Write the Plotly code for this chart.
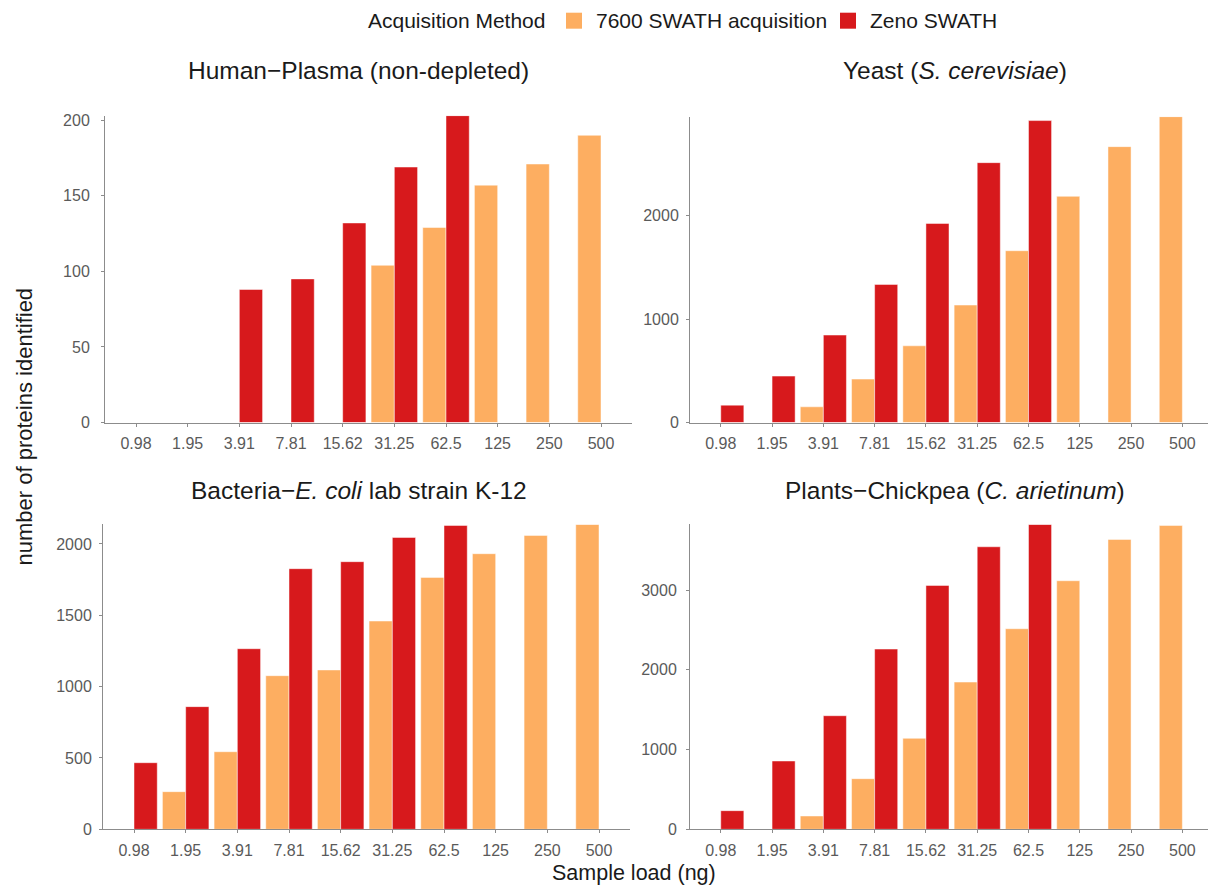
import plotly.graph_objects as go

loads = ['0.98', '1.95', '3.91', '7.81', '15.62', '31.25', '62.5', '125', '250', '500']

plasma_7600 = [None, None, None, None, None, 104, 129, 157, 171, 190]
plasma_zeno = [None, None, 88, 95, 132, 169, 203, None, None, None]
yeast_7600 = [None, None, 152, 420, 742, 1136, 1662, 2188, 2669, 2959]
yeast_zeno = [168, 449, 846, 1336, 1926, 2514, 2921, None, None, None]
ecoli_7600 = [None, 264, 544, 1077, 1117, 1460, 1766, 1932, 2060, 2137]
ecoli_zeno = [467, 860, 1266, 1827, 1876, 2046, 2130, None, None, None]
chick_7600 = [None, None, 167, 635, 1141, 1847, 2516, 3118, 3636, 3811]
chick_zeno = [234, 857, 1425, 2261, 3059, 3544, 3824, None, None, None]

series_names = ['7600 SWATH acquisition', 'Zeno SWATH']
legend_title = 'Acquisition Method'
colors = ['#FDAE61', '#D7191C']

panels = [
    ('Human\u2212Plasma (non-depleted)', plasma_7600, plasma_zeno, [0, 50, 100, 150, 200]),
    ('Yeast (<i>S. cerevisiae</i>)', yeast_7600, yeast_zeno, [0, 1000, 2000]),
    ('Bacteria\u2212<i>E. coli</i> lab strain K-12', ecoli_7600, ecoli_zeno, [0, 500, 1000, 1500, 2000]),
    ('Plants\u2212Chickpea (<i>C. arietinum</i>)', chick_7600, chick_zeno, [0, 1000, 2000, 3000]),
]

W, H = 1208, 899
# panel geometry in target pixels: (x0, x1, ytop, ybottom)
geom = [
    (105, 632, 115, 422),
    (690, 1208, 116, 422),
    (103, 630, 524, 829),
    (690, 1208, 524, 829),
]
xranges = [[-0.6, 9.6], [-0.6, 9.5], [-0.6, 9.6], [-0.6, 9.5]]
title_pos = [(358, 70), (955, 70), (359, 490), (955, 490)]
ylab_standoff = [8, 4, 4, 6]


def px(x):
    return x / W


def py(y):
    # slight vertical correction of the captured page
    return 1 - ((y - 3.3) / 0.986) / H


font_family = 'Liberation Sans, Arial, sans-serif'
tick_font = dict(size=16, color='#5a5a5a', family=font_family)
fig = go.Figure()
annotations = []
shapes = []
layout_axes = {}

for i, (title, v7600, vzeno, tickv) in enumerate(panels):
    n = i + 1
    xa = 'x' if n == 1 else f'x{n}'
    ya = 'y' if n == 1 else f'y{n}'
    for vals, name, col in zip([v7600, vzeno], series_names, colors):
        fig.add_trace(go.Bar(
            x=loads, y=vals, name=name,
            marker=dict(color=col, line=dict(color='rgba(255,255,255,0.6)', width=0.8)),
            xaxis=xa, yaxis=ya, legendgroup=name, showlegend=False,
        ))
    x0, x1, yt, yb = geom[i]
    ymax = max(v for v in v7600 + vzeno if v is not None)
    layout_axes['xaxis' if n == 1 else f'xaxis{n}'] = dict(
        domain=[px(x0), px(x1)], anchor=ya, type='category',
        categoryorder='array', categoryarray=loads, range=xranges[i],
        showline=True, linecolor='#8c8c8c', linewidth=1,
        ticks='outside', ticklen=3, tickcolor='#8c8c8c', ticklabelstandoff=3,
        tickfont=tick_font, showgrid=False, zeroline=False, fixedrange=True,
    )
    layout_axes['yaxis' if n == 1 else f'yaxis{n}'] = dict(
        domain=[py(yb), py(yt)], anchor=xa, range=[0, ymax],
        showline=True, linecolor='#8c8c8c', linewidth=1,
        ticks='outside', ticklen=3, tickcolor='#8c8c8c', ticklabelstandoff=ylab_standoff[i],
        tickvals=tickv, tickfont=tick_font,
        showgrid=False, zeroline=False, fixedrange=True,
    )
    tx, ty = title_pos[i]
    annotations.append(dict(
        text=title, x=px(tx), y=py(ty),
        xref='paper', yref='paper', xanchor='center', yanchor='middle',
        showarrow=False, font=dict(size=24.5, color='#1a1a1a', family=font_family),
    ))

annotations.append(dict(
    text='number of proteins identified', x=px(25), y=py(426), xref='paper', yref='paper',
    textangle=-90, showarrow=False, xanchor='center', yanchor='middle',
    font=dict(size=22, color='#1a1a1a', family=font_family),
))
annotations.append(dict(
    text='Sample load (ng)', x=px(634), y=py(873), xref='paper', yref='paper',
    showarrow=False, xanchor='center', yanchor='middle',
    font=dict(size=21.5, color='#1a1a1a', family=font_family),
))

# manual legend (title, keys and labels)
leg_font = dict(size=21, color='#1a1a1a', family=font_family)
leg_y = 20
annotations.append(dict(text=legend_title, x=px(366), y=py(leg_y), xref='paper', yref='paper',
                        xanchor='left', yanchor='middle', showarrow=False, font=leg_font))
key_x = [566, 840]
for kx, name, col in zip(key_x, series_names, colors):
    shapes.append(dict(type='rect', xref='paper', yref='paper',
                       x0=px(kx), x1=px(kx + 16), y0=py(leg_y + 8), y1=py(leg_y - 8),
                       fillcolor=col, line=dict(width=0)))
    annotations.append(dict(text=name, x=px(kx + 28), y=py(leg_y), xref='paper', yref='paper',
                            xanchor='left', yanchor='middle', showarrow=False, font=leg_font))

fig.update_layout(
    width=W, height=H, margin=dict(l=0, r=0, t=0, b=0),
    paper_bgcolor='white', plot_bgcolor='white',
    barmode='group', bargap=0.1, bargroupgap=0,
    font=dict(family=font_family, color='#1a1a1a'),
    showlegend=False,
    annotations=annotations,
    shapes=shapes,
    **layout_axes,
)

fig.write_html('out.html', config={'displayModeBar': False},
               post_script="document.body.style.margin='0';document.body.style.overflow='hidden';")
